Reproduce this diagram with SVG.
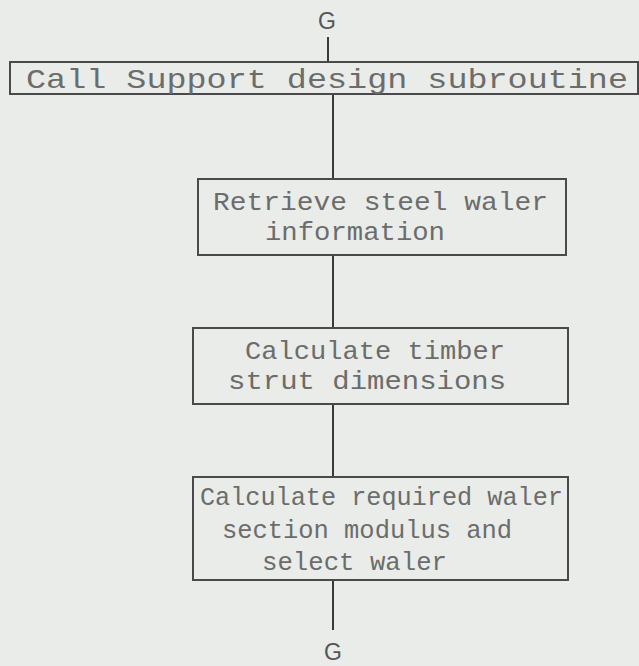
<svg xmlns="http://www.w3.org/2000/svg" width="639" height="666" viewBox="0 0 639 666">
  <style>
    .box { fill: none; stroke: #4a4a4a; stroke-width: 2; }
    .conn { stroke: #3a3a3a; stroke-width: 2; fill: none; }
    .tw { font-family: "Liberation Mono", "DejaVu Sans Mono", monospace; fill: #6c6c6c; font-size: 26px; }
    .big { font-size: 28px; }
    .lbl { font-family: "Liberation Sans", Arial, sans-serif; fill: #555; font-size: 23px; text-anchor: middle; }
  </style>
  <rect width="639" height="666" fill="#e9ece8"/>

  <g id="connectors">
    <line class="conn" x1="328" y1="37" x2="328" y2="62"/>
    <line class="conn" x1="333" y1="94" x2="333" y2="179"/>
    <line class="conn" x1="333" y1="255" x2="333" y2="328"/>
    <line class="conn" x1="333" y1="404" x2="333" y2="477"/>
    <line class="conn" x1="333" y1="580" x2="333" y2="630"/>
  </g>

  <g id="entry-G">
    <text class="lbl" x="327" y="29">G</text>
  </g>

  <g id="call-support">
    <rect class="box" x="10" y="62" width="628" height="32"/>
    <text class="tw big" x="26" y="88" textLength="602" lengthAdjust="spacingAndGlyphs">Call Support design subroutine</text>
  </g>

  <g id="retrieve-waler">
    <rect class="box" x="198" y="179" width="368" height="76"/>
    <text class="tw" x="213" y="210" textLength="335" lengthAdjust="spacingAndGlyphs">Retrieve steel waler</text>
    <text class="tw" x="265" y="240" textLength="180" lengthAdjust="spacingAndGlyphs">information</text>
  </g>

  <g id="timber-strut">
    <rect class="box" x="193" y="328" width="375" height="76"/>
    <text class="tw" x="245" y="359" textLength="260" lengthAdjust="spacingAndGlyphs">Calculate timber</text>
    <text class="tw" x="228" y="389" textLength="278" lengthAdjust="spacingAndGlyphs">strut dimensions</text>
  </g>

  <g id="select-waler">
    <rect class="box" x="193" y="477" width="375" height="103"/>
    <text class="tw" x="200" y="505" textLength="363" lengthAdjust="spacingAndGlyphs">Calculate required waler</text>
    <text class="tw" x="222" y="538" textLength="290" lengthAdjust="spacingAndGlyphs">section modulus and</text>
    <text class="tw" x="262" y="570" textLength="185" lengthAdjust="spacingAndGlyphs">select waler</text>
  </g>

  <g id="exit-G">
    <text class="lbl" x="333" y="660">G</text>
  </g>
</svg>
